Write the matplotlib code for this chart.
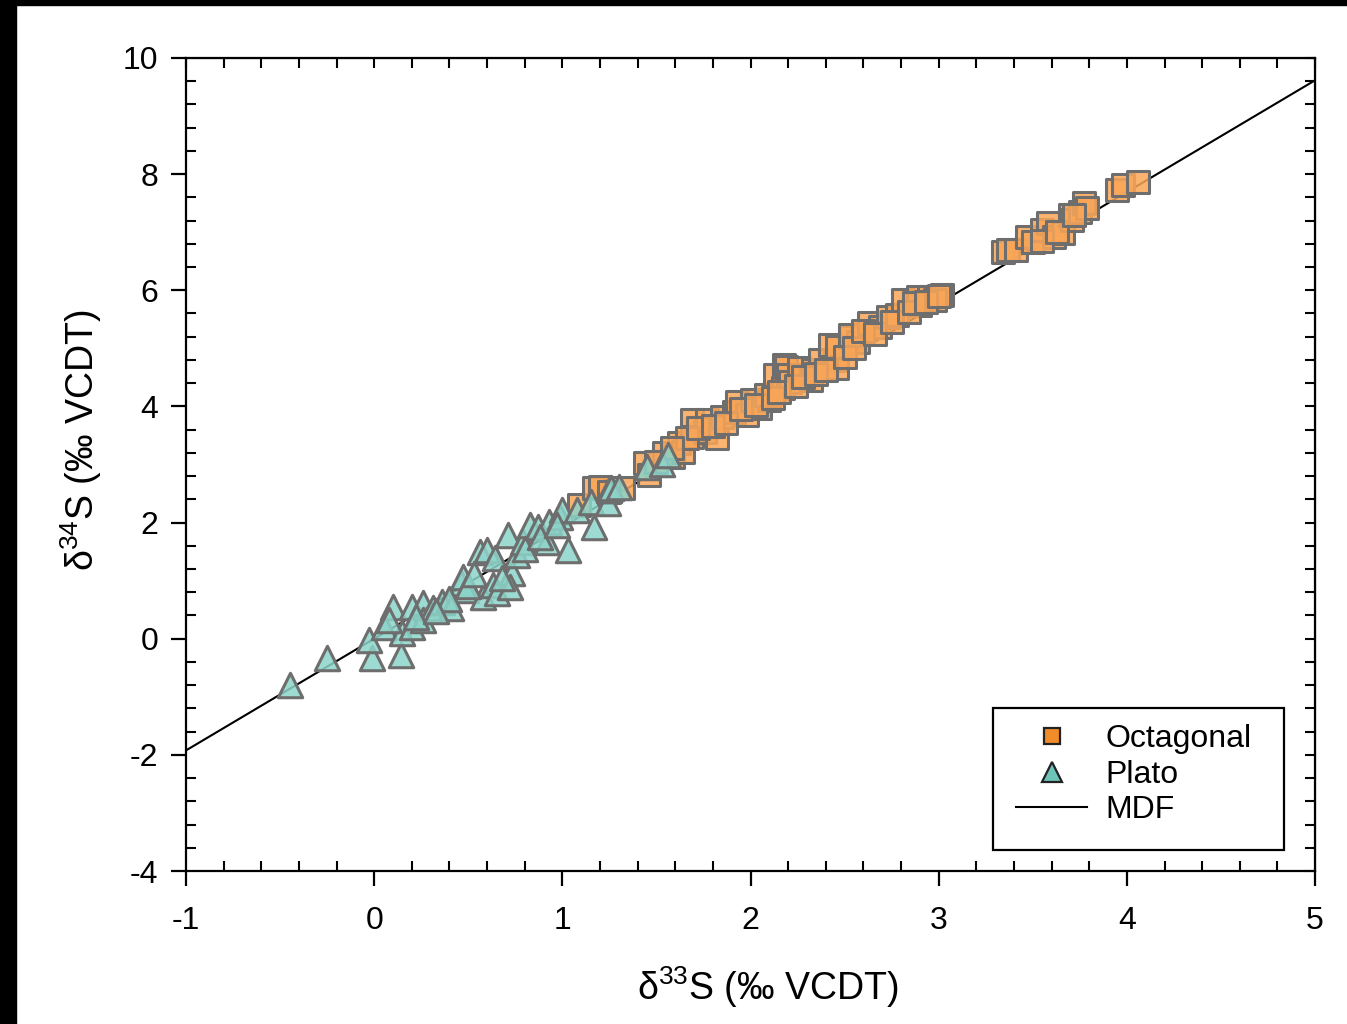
import matplotlib
matplotlib.use('Agg')
import matplotlib.pyplot as plt
import numpy as np
from matplotlib.lines import Line2D
from matplotlib.patches import Rectangle
from matplotlib.ticker import MultipleLocator

plt.rcParams['font.family'] = ['Liberation Sans', 'DejaVu Sans']
plt.rcParams['mathtext.fontset'] = 'custom'
plt.rcParams['mathtext.rm'] = 'Liberation Sans'
plt.rcParams['mathtext.it'] = 'Liberation Sans:italic'
plt.rcParams['axes.unicode_minus'] = False

# Octagonal sulfides (d33S, d34S)
oct_d33 = [1.09, 1.17, 1.20, 1.32, 1.44, 1.46, 1.54, 1.59, 1.62, 1.64, 1.69, 1.69,
           1.76, 1.77, 1.82, 1.85, 1.91, 1.93, 1.98, 2.01, 2.05, 2.10, 2.08, 2.13,
           2.17, 2.18, 2.19, 2.20, 2.21, 2.26, 2.32, 2.33, 2.37, 2.45, 2.46, 2.42,
           2.46, 2.53, 2.57, 2.53, 2.63, 2.69, 2.73, 2.78, 2.81, 2.90, 2.89, 2.95,
           3.02, 2.98, 3.34, 3.37, 3.41, 3.47, 3.50, 3.55, 3.58, 3.61, 3.66, 3.70,
           3.71, 3.75, 3.77, 3.79, 3.95, 3.98, 4.06,
           1.66, 1.72, 1.80, 1.87, 1.95, 2.03, 2.12, 2.15, 2.24, 2.28, 2.35, 2.40,
           2.50, 2.55, 2.60, 2.66, 2.75, 2.84, 2.87, 2.93, 3.00, 3.55, 3.63, 3.72,
           1.25, 1.50, 1.58]
oct_d34 = [2.30, 2.60, 2.61, 2.60, 3.03, 2.82, 3.20, 3.13, 3.37, 3.22, 3.77, 3.47,
           3.56, 3.77, 3.46, 3.82, 3.90, 4.08, 3.85, 4.11, 3.97, 4.11, 4.20, 4.54,
           4.32, 4.71, 4.68, 4.54, 4.42, 4.66, 4.46, 4.63, 4.80, 4.80, 4.66, 5.06,
           5.02, 5.20, 5.11, 5.23, 5.44, 5.37, 5.54, 5.57, 5.83, 5.75, 5.88, 5.88,
           5.92, 5.83, 6.66, 6.69, 6.69, 6.92, 6.83, 7.04, 7.16, 6.92, 6.99, 7.30,
           7.21, 7.35, 7.50, 7.42, 7.73, 7.81, 7.86,
           3.45, 3.62, 3.66, 3.72, 3.95, 4.02, 4.15, 4.25, 4.35, 4.50, 4.55, 4.62,
           4.85, 5.00, 5.30, 5.25, 5.45, 5.62, 5.78, 5.80, 5.90, 6.85, 7.00, 7.30,
           2.52, 3.05, 3.28]

# Plato sulfides (d33S, d34S)
pla_d33 = [-0.45, -0.25, -0.01, 0.14, -0.03, 0.05, 0.10, 0.15, 0.20, 0.20, 0.26,
           0.26, 0.31, 0.36, 0.41, 0.46, 0.47, 0.49, 0.56, 0.58, 0.60, 0.63, 0.64,
           0.65, 0.71, 0.73, 0.72, 0.76, 0.79, 0.83, 0.87, 0.92, 0.93, 0.99, 1.00,
           1.03, 1.08, 1.15, 1.17, 1.24, 1.25, 1.26, 1.30, 1.45, 1.53, 1.56,
           0.40, 0.50, 0.53, 0.68, 0.80, 0.88, 0.97, 0.22, 0.33, 0.08]
pla_d34 = [-0.80, -0.33, -0.33, -0.28, -0.02, 0.20, 0.55, 0.10, 0.55, 0.20, 0.62,
           0.32, 0.53, 0.63, 0.53, 0.96, 1.06, 0.84, 1.49, 0.72, 1.53, 0.93, 1.39,
           0.79, 1.79, 1.13, 0.89, 1.44, 1.67, 1.96, 1.92, 1.67, 2.01, 2.10, 2.22,
           1.53, 2.22, 2.35, 1.92, 2.34, 2.56, 2.60, 2.62, 2.96, 3.00, 3.16,
           0.68, 0.90, 1.12, 1.05, 1.55, 1.75, 1.95, 0.38, 0.48, 0.32]

# mass-dependent fractionation line
mdf_slope = 1 / 0.52
mdf_x = [-1, 5]

fig = plt.figure(figsize=(13.47, 10.24), dpi=100)
ax = fig.add_axes([0.1381, 0.1494, 0.8382, 0.794])

ax.plot(mdf_x, [mdf_slope * v for v in mdf_x], color='black', lw=1.5, zorder=1)
ax.scatter(oct_d33, oct_d34, marker='s', s=235, facecolor=(0.98, 0.65, 0.34, 0.85),
           edgecolor='#6e6e6e', linewidth=2.2, zorder=2)
ax.scatter(pla_d33, pla_d34, marker='^', s=310, facecolor=(0.55, 0.83, 0.79, 0.85),
           edgecolor='#6e6e6e', linewidth=2.2, zorder=3)

ax.set_xlim(-1, 5)
ax.set_ylim(-4, 10)
ax.xaxis.set_major_locator(MultipleLocator(1))
ax.xaxis.set_minor_locator(MultipleLocator(0.2))
ax.yaxis.set_major_locator(MultipleLocator(2))
ax.yaxis.set_minor_locator(MultipleLocator(0.4))
ax.tick_params(which='major', direction='out', length=11, width=1.6, labelsize=23)
ax.tick_params(axis='x', which='major', pad=14)
ax.tick_params(axis='y', which='major', pad=9)
ax.tick_params(which='minor', direction='in', length=7, width=1.5)
for sp in ax.spines.values():
    sp.set_linewidth(1.6)

# inward ticks on top and right
top = ax.secondary_xaxis('top')
top.set_xticks(np.arange(-1, 5.01, 0.2))
top.tick_params(direction='in', length=7, width=1.5, labeltop=False)
right = ax.secondary_yaxis('right')
right.set_yticks(np.arange(-4, 10.01, 0.4))
right.tick_params(direction='in', length=7, width=1.5, labelright=False)

ax.set_xlabel('δ$^{33}$S (‰ VCDT)', fontsize=27)
ax.set_ylabel('δ$^{34}$S (‰ VCDT)', fontsize=27)
ax.xaxis.set_label_coords(0.5155, -0.115)
ax.yaxis.set_label_coords(-0.073, 0.53)

handles = [
    Line2D([], [], marker='s', ls='none', markersize=12, markerfacecolor='#F28C28',
           markeredgecolor='#222222', markeredgewidth=1.6),
    Line2D([], [], marker='^', ls='none', markersize=14, markerfacecolor='#6CC5B8',
           markeredgecolor='#222222', markeredgewidth=1.6),
    Line2D([], [], color='black', lw=1.5),
]
leg = ax.legend(handles, ['Octagonal', 'Plato', 'MDF'], loc='upper left',
                bbox_to_anchor=(0.727, 0.192), fontsize=23, frameon=False,
                labelspacing=0.17, handlelength=2.2, handletextpad=0.6,
                borderpad=0.3, borderaxespad=0)

# legend box
ax.add_patch(Rectangle((0.715, 0.026), 0.2575, 0.1745, transform=ax.transAxes,
                       facecolor='white', edgecolor='black', lw=1.6, zorder=4))
leg.set_zorder(5)

# black frame strips on the left and top edges
fig.patches.append(Rectangle((0, 0), 16 / 1347, 1, transform=fig.transFigure,
                             color='black', zorder=10))
fig.patches.append(Rectangle((0, 1 - 5 / 1024), 1, 5 / 1024, transform=fig.transFigure,
                             color='black', zorder=10))

fig.savefig('out.png', dpi=100)
